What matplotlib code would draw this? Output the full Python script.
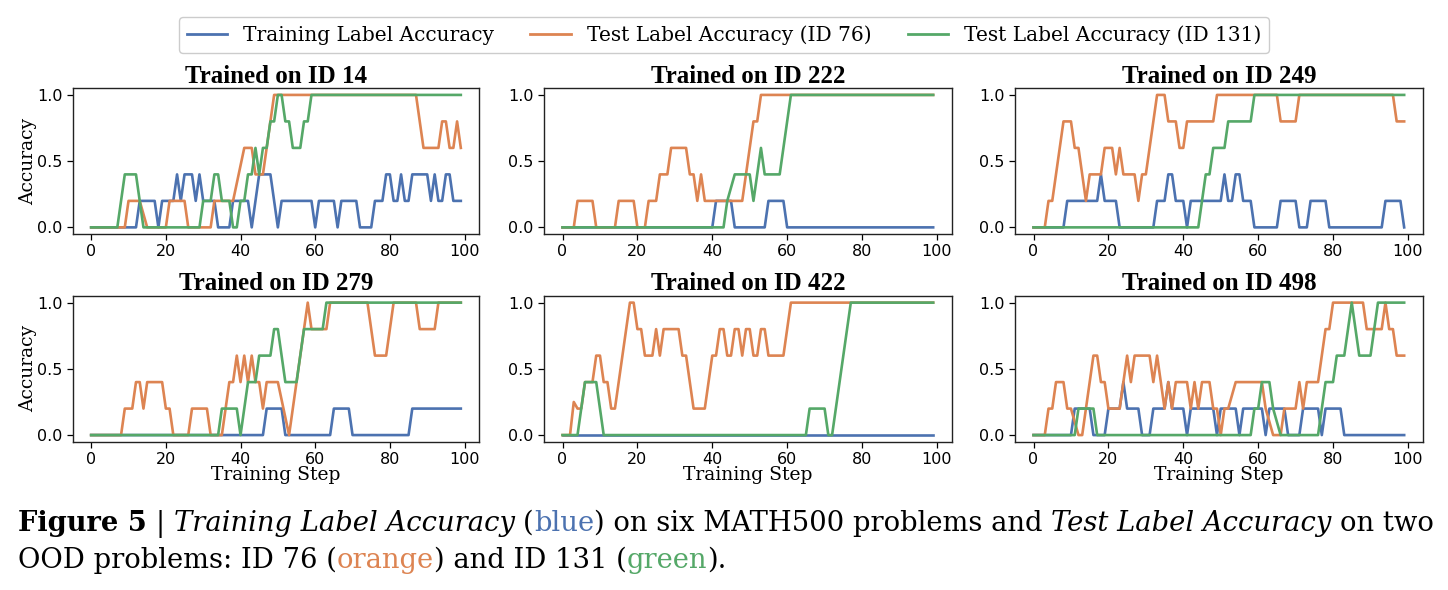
import matplotlib.pyplot as plt
from matplotlib.lines import Line2D

# knot points (training step, accuracy); lines join them
panel_ids = [14, 222, 249, 279, 422, 498]

train_14 = [(0, 0), (12, 0), (13, .2), (17, .2), (18, 0), (19, .2), (22, .2), (23, .4), (24, .2), (25, .4),
            (27, .4), (28, .2), (29, .4), (30, .2), (33, .2), (34, 0), (37, 0), (38, .2), (42, .2), (43, 0),
            (44, .2), (45, .4), (48, .4), (49, .2), (50, 0), (51, .2), (59, .2), (60, 0), (61, .2), (65, .2),
            (66, 0), (67, .2), (71, .2), (72, 0), (75, 0), (76, .2), (78, .2), (79, .4), (80, .4), (81, .2),
            (82, .2), (83, .4), (84, .2), (85, .2), (86, .4), (90, .4), (91, .2), (92, .4), (93, .2), (94, .2),
            (95, .4), (96, .4), (97, .2), (99, .2)]
test76_14 = [(0, 0), (9, 0), (10, .2), (13, .2), (15, 0), (20, 0), (21, .2), (25, .2), (26, 0), (32, 0),
             (33, .2), (38, .2), (41, .6), (43, .6), (44, .4), (46, .4), (49, 1), (87, 1), (89, .6), (93, .6),
             (94, .8), (95, .8), (96, .6), (97, .6), (98, .8), (99, .6)]
test131_14 = [(0, 0), (7, 0), (9, .4), (12, .4), (14, 0), (29, 0), (30, .2), (32, .2), (33, .4), (34, .4),
              (35, .2), (37, .2), (38, 0), (39, 0), (40, .2), (41, .2), (42, .4), (43, .4), (44, .6), (45, .4),
              (46, .6), (47, .6), (48, .8), (49, .8), (50, 1), (51, 1), (52, .8), (53, .8), (54, .6), (56, .6),
              (57, .8), (58, .8), (59, 1), (99, 1)]

train_222 = [(0, 0), (40, 0), (41, .2), (45, .2), (46, 0), (54, 0), (55, .2), (59, .2), (60, 0), (99, 0)]
test76_222 = [(0, 0), (3, 0), (4, .2), (8, .2), (9, 0), (14, 0), (15, .2), (19, .2), (20, 0), (22, 0),
              (23, .2), (25, .2), (26, .4), (28, .4), (29, .6), (33, .6), (34, .4), (35, .4), (36, .2),
              (37, .4), (38, .2), (48, .2), (51, .8), (52, .8), (53, 1), (99, 1)]
test131_222 = [(0, 0), (43, 0), (44, .2), (46, .4), (50, .4), (51, .2), (53, .6), (54, .4), (58, .4),
               (61, 1), (99, 1)]

train_249 = [(0, 0), (8, 0), (9, .2), (17, .2), (18, .4), (19, .2), (22, .2), (23, 0), (32, 0), (33, .2),
             (35, .2), (36, .4), (37, .4), (38, .2), (40, .2), (41, 0), (42, .2), (50, .2), (51, .4), (52, .2),
             (53, .2), (54, .4), (55, .4), (56, .2), (58, .2), (59, 0), (65, 0), (66, .2), (70, .2), (71, 0),
             (73, 0), (74, .2), (78, .2), (79, 0), (93, 0), (94, .2), (98, .2), (99, 0)]
test76_249 = [(0, 0), (3, 0), (4, .2), (5, .2), (8, .8), (10, .8), (11, .6), (12, .6), (14, .2), (15, .4),
              (18, .4), (19, .6), (21, .6), (22, .4), (23, .6), (24, .4), (27, .4), (28, .2), (29, .4),
              (30, .4), (33, 1), (35, 1), (36, .8), (38, .8), (39, .6), (40, .6), (41, .8), (48, .8), (49, 1),
              (65, 1), (66, .8), (70, .8), (71, 1), (96, 1), (97, .8), (99, .8)]
test131_249 = [(0, 0), (44, 0), (45, .2), (46, .4), (47, .4), (48, .6), (51, .6), (52, .8), (58, .8),
               (59, 1), (99, 1)]

train_279 = [(0, 0), (46, 0), (47, .2), (51, .2), (52, 0), (64, 0), (65, .2), (69, .2), (70, 0), (85, 0),
             (86, .2), (99, .2)]
test76_279 = [(0, 0), (8, 0), (9, .2), (11, .2), (12, .4), (13, .4), (14, .2), (15, .4), (19, .4), (20, .2),
              (21, .2), (22, 0), (26, 0), (27, .2), (31, .2), (32, 0), (35, 0), (36, .2), (37, .4), (38, .4),
              (39, .6), (40, .4), (41, .6), (42, .4), (43, .6), (44, .4), (45, .4), (46, .2), (47, .4),
              (50, .4), (53, 0), (57, .8), (58, 1), (59, .8), (63, .8), (64, 1), (74, 1), (76, .6), (79, .6),
              (81, 1), (87, 1), (88, .8), (92, .8), (93, 1), (99, 1)]
test131_279 = [(0, 0), (34, 0), (35, .2), (39, .2), (40, 0), (42, .4), (44, .4), (45, .6), (48, .6),
               (49, .8), (50, .8), (52, .4), (55, .4), (57, .8), (62, .8), (63, 1), (99, 1)]

train_422 = [(0, 0), (99, 0)]
test76_422 = [(0, 0), (2, 0), (3, .25), (4, .2), (5, .2), (6, .4), (8, .4), (9, .6), (10, .6), (11, .4),
              (12, .4), (13, .2), (14, .2), (18, 1), (19, 1), (20, .8), (21, .8), (22, .6), (24, .6), (25, .8),
              (26, .6), (27, .8), (31, .8), (32, .6), (33, .6), (35, .2), (38, .2), (40, .6), (41, .6),
              (42, .8), (43, .8), (44, .6), (45, .6), (46, .8), (47, .8), (48, .6), (49, .8), (50, .8),
              (51, .6), (52, .6), (53, .8), (54, .8), (55, .6), (59, .6), (61, 1), (99, 1)]
test131_422 = [(0, 0), (4, 0), (6, .4), (9, .4), (11, 0), (65, 0), (66, .2), (70, .2), (71, 0), (72, 0),
               (77, 1), (99, 1)]

train_498 = [(0, 0), (10, 0), (11, .2), (15, .2), (16, 0), (19, 0), (20, .2), (23, .2), (24, .4), (25, .2),
             (28, .2), (29, 0), (31, 0), (32, .2), (35, .2), (36, .4), (37, .2), (40, .2), (41, 0), (42, .2),
             (48, .2), (49, 0), (50, .2), (54, .2), (55, 0), (56, .2), (61, .2), (62, 0), (63, .2), (67, .2),
             (68, 0), (71, 0), (72, .2), (76, .2), (77, 0), (78, .2), (82, .2), (83, 0), (99, 0)]
test76_498 = [(0, 0), (3, 0), (4, .2), (5, .2), (6, .4), (8, .4), (9, .2), (10, .2), (12, 0), (13, 0),
              (16, .6), (17, .6), (18, .4), (19, .4), (20, .2), (23, .2), (24, .4), (25, .6), (26, .4),
              (27, .6), (31, .6), (32, .4), (33, .6), (35, .2), (36, .4), (37, .2), (38, .4), (41, .4),
              (42, .2), (43, .4), (44, .2), (45, .4), (47, .4), (48, .2), (49, .2), (50, 0), (51, .2),
              (52, .2), (54, .4), (61, .4), (62, .2), (64, 0), (66, 0), (67, .2), (70, .2), (71, .4), (72, .2),
              (73, .4), (76, .4), (78, .8), (79, .8), (80, 1), (88, 1), (89, .8), (93, .8), (94, 1), (95, .8),
              (96, .8), (97, .6), (99, .6)]
test131_498 = [(0, 0), (11, 0), (12, .2), (16, .2), (17, 0), (58, 0), (59, .2), (60, .2), (61, .4), (63, .4),
               (64, .2), (66, 0), (76, 0), (78, .4), (80, .4), (81, .6), (83, .6), (85, 1), (87, .6), (90, .6),
               (92, 1), (99, 1)]

train_runs = [train_14, train_222, train_249, train_279, train_422, train_498]
test76_runs = [test76_14, test76_222, test76_249, test76_279, test76_422, test76_498]
test131_runs = [test131_14, test131_222, test131_249, test131_279, test131_422, test131_498]

series_labels = ["Training Label Accuracy", "Test Label Accuracy (ID 76)", "Test Label Accuracy (ID 131)"]
c_blue, c_orange, c_green = "#4C72B0", "#DD8452", "#55A868"

W, H = 1448, 590
fig = plt.figure(figsize=(W / 100, H / 100), dpi=100)

# axes boxes in pixels (left, top, right, bottom)
col_x = [(72.7, 479.3), (544, 951.7), (1015, 1422.7)]
row_y = [(88.3, 234), (296, 441.7)]

for k, pid in enumerate(panel_ids):
    r, c = divmod(k, 3)
    x0, x1 = col_x[c]
    y0, y1 = row_y[r]
    ax = fig.add_axes([x0 / W, 1 - y1 / H, (x1 - x0) / W, (y1 - y0) / H])
    for runs, col in [(train_runs, c_blue), (test76_runs, c_orange), (test131_runs, c_green)]:
        xs, ys = zip(*runs[k])
        ax.plot(xs, ys, color=col, lw=1.9)
    ax.set_xlim(-4.95, 103.95)
    ax.set_ylim(-0.05, 1.05)
    ax.set_xticks([0, 20, 40, 60, 80, 100])
    ax.set_yticks([0.0, 0.5, 1.0])
    ax.tick_params(labelsize=11.5, length=4, width=0.9)
    for sp in ax.spines.values():
        sp.set_linewidth(1.0)
        sp.set_color("#222222")
    ax.set_title(f"Trained on ID {pid}", fontsize=18, fontweight="bold",
                 family="Liberation Serif", pad=4)
    if c == 0:
        ax.set_ylabel("Accuracy", fontsize=13.5, family="DejaVu Serif", labelpad=0)
    if r == 1:
        ax.set_xlabel("Training Step", fontsize=13.5, family="DejaVu Serif", labelpad=-1)

handles = [Line2D([], [], color=c_blue, lw=2), Line2D([], [], color=c_orange, lw=2),
           Line2D([], [], color=c_green, lw=2)]
fig.legend(handles, series_labels, loc="center", bbox_to_anchor=(0.5, 1 - 35 / H), ncol=3,
           prop={"family": "DejaVu Serif", "size": 14.5}, columnspacing=1.8, handlelength=2.0,
           borderpad=0.4, framealpha=1, edgecolor="#cccccc")

# caption, drawn piece by piece so that styles and colours can change within a line
renderer = fig.canvas.get_renderer()
cap_family = "DejaVu Serif"

line1 = [("Figure 5", "bold", "normal", "black", False), ("|", "normal", "normal", "black", True),
         ("Training Label Accuracy", "normal", "italic", "black", True),
         ("(", "normal", "normal", "black", True), ("blue", "normal", "normal", c_blue, False),
         (") on six MATH500 problems and", "normal", "normal", "black", False),
         ("Test Label Accuracy", "normal", "italic", "black", True),
         ("on two", "normal", "normal", "black", True)]
line2 = [("OOD problems: ID 76 (", "normal", "normal", "black", False),
         ("orange", "normal", "normal", c_orange, False),
         (") and ID 131 (", "normal", "normal", "black", False),
         ("green", "normal", "normal", c_green, False), (").", "normal", "normal", "black", False)]


def text_width(s, size, wt="normal", st="normal"):
    t = fig.text(0, 0, s, fontsize=size, family=cap_family, fontweight=wt, fontstyle=st)
    w = t.get_window_extent(renderer).width
    t.remove()
    return w


def line_width(pieces, size):
    sp_w = text_width("x x", size) - text_width("xx", size)
    return sum(text_width(p[0], size, p[1], p[2]) + (sp_w if p[4] else 0) for p in pieces)


# first caption line runs from x=18 to x=1432 in the reference
cap_size = 20 * 1414 / line_width(line1, 20)
space_w = text_width("x x", cap_size) - text_width("xx", cap_size)

for pieces, base_y in [(line1, 531), (line2, 568)]:
    x = 18.0
    for txt, wt, st, col, sp in pieces:
        if sp:
            x += space_w
        t = fig.text(x / W, 1 - base_y / H, txt, fontsize=cap_size, family=cap_family,
                     fontweight=wt, fontstyle=st, color=col, va="baseline", ha="left")
        x += t.get_window_extent(renderer).width

fig.savefig("out.png", dpi=100)
